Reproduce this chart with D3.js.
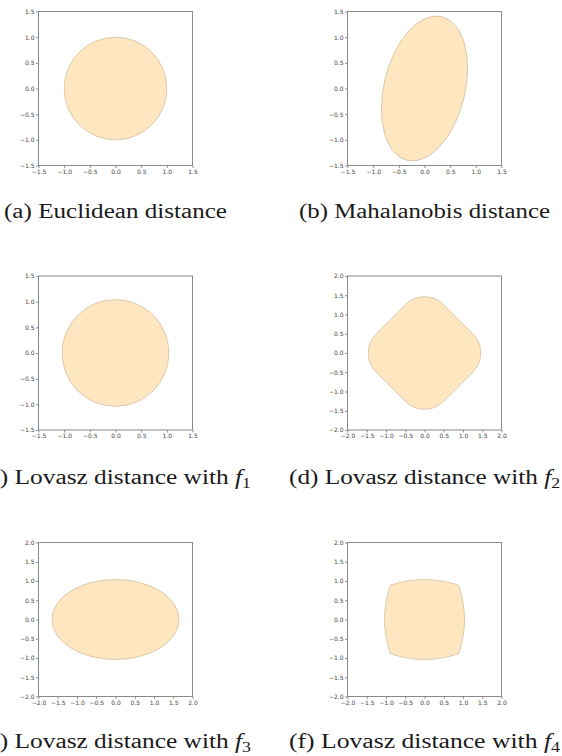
<!DOCTYPE html>
<html><head><meta charset="utf-8">
<script src="https://cdn.jsdelivr.net/npm/d3@7"></script>
<style>body{margin:0;background:#fff}svg{display:block}</style>
</head><body>
<svg id="chart" width="562" height="756"></svg>
<script>
// ---- data ----
const ticksSmall = [-1.5, -1.0, -0.5, 0.0, 0.5, 1.0, 1.5];
const ticksLarge = [-2.0, -1.5, -1.0, -0.5, 0.0, 0.5, 1.0, 1.5, 2.0];
const captionLetters = ["a", "b", "c", "d", "e", "f"];
const captionTexts = ["Euclidean distance", "Mahalanobis distance", "Lovasz distance with", "Lovasz distance with", "Lovasz distance with", "Lovasz distance with"];
const captionSubs = [null, null, "1", "2", "3", "4"];
const axisLimits = [1.5, 1.5, 1.5, 2.0, 2.0, 2.0];
// ellipses: [cx, cy, semi-axis along rotated x, semi-axis along rotated y, rotation in degrees]
const ellipseA = [0, 0, 1.00, 1.00, 0];
const ellipseB = [0, 0, 1.44, 0.79, 76.5];
const ellipseC = [0, 0, 1.04, 1.04, 0];
const ellipseE = [0, 0, 1.65, 1.04, 0];
// boundary of ball (d)
const boundaryD = [
  [1.46, 0], [1.44, 0.18], [1.37, 0.35], [1.26, 0.49], [0.875, 0.875], [0.49, 1.26], [0.35, 1.37], [0.18, 1.44],
  [0, 1.46], [-0.18, 1.44], [-0.35, 1.37], [-0.49, 1.26], [-0.875, 0.875], [-1.26, 0.49], [-1.37, 0.35], [-1.44, 0.18],
  [-1.46, 0], [-1.44, -0.18], [-1.37, -0.35], [-1.26, -0.49], [-0.875, -0.875], [-0.49, -1.26], [-0.35, -1.37], [-0.18, -1.44],
  [0, -1.46], [0.18, -1.44], [0.35, -1.37], [0.49, -1.26], [0.875, -0.875], [1.26, -0.49], [1.37, -0.35], [1.44, -0.18]
];
// boundary of ball (f): four curved sides
const sideFTop = [[-0.89, 0.89], [-0.6, 0.97], [-0.3, 1.02], [0, 1.04], [0.3, 1.02], [0.6, 0.97], [0.89, 0.89]];
const sideFRight = [[0.89, 0.89], [0.97, 0.6], [1.02, 0.3], [1.04, 0], [1.02, -0.3], [0.97, -0.6], [0.89, -0.89]];
const sideFBottom = [[0.89, -0.89], [0.6, -0.97], [0.3, -1.02], [0, -1.04], [-0.3, -1.02], [-0.6, -0.97], [-0.89, -0.89]];
const sideFLeft = [[-0.89, -0.89], [-0.97, -0.6], [-1.02, -0.3], [-1.04, 0], [-1.02, 0.3], [-0.97, 0.6], [-0.89, 0.89]];

// ---- layout ----
const svg = d3.select("#chart");
const origins = [[38.5, 11.5], [347.5, 11.5], [38.5, 276], [347.5, 276], [38.5, 542.5], [347.5, 542.5]];
const captionY = [218, 218, 484, 484, 748, 748];
const captionW = [223, 251, 271, 271, 271, 271];
const size = 154;
const fillColor = "#fee6c1";
const edgeColor = "#cbb998";
const fmt = d => (d < 0 ? "\u2212" : "") + Math.abs(d).toFixed(1);

origins.forEach((o, i) => {
  const L = axisLimits[i];
  const ticks = L > 1.5 ? ticksLarge : ticksSmall;
  const x = d3.scaleLinear().domain([-L, L]).range([o[0], o[0] + size]);
  const y = d3.scaleLinear().domain([-L, L]).range([o[1] + size, o[1]]);
  const g = svg.append("g");

  const drawEllipse = e => {
    const cx = x(e[0]), cy = y(e[1]);
    g.append("ellipse")
      .attr("cx", cx).attr("cy", cy)
      .attr("rx", x(e[0] + e[2]) - cx)
      .attr("ry", cy - y(e[1] + e[3]))
      .attr("transform", `rotate(${-e[4]},${cx},${cy})`)
      .attr("fill", fillColor).attr("stroke", edgeColor).attr("stroke-width", 0.7);
  };
  if (i === 0) drawEllipse(ellipseA);
  if (i === 1) drawEllipse(ellipseB);
  if (i === 2) drawEllipse(ellipseC);
  if (i === 4) drawEllipse(ellipseE);
  if (i === 3) {
    const line = d3.line().x(d => x(d[0])).y(d => y(d[1])).curve(d3.curveCatmullRomClosed.alpha(0.5));
    g.append("path").attr("d", line(boundaryD))
      .attr("fill", fillColor).attr("stroke", edgeColor).attr("stroke-width", 0.7);
  }
  if (i === 5) {
    const line = d3.line().x(d => x(d[0])).y(d => y(d[1])).curve(d3.curveCatmullRom.alpha(0.5));
    const parts = [sideFTop, sideFRight, sideFBottom, sideFLeft].map((s, k) => {
      const p = line(s);
      return k === 0 ? p : "L" + p.slice(1);
    });
    g.append("path").attr("d", parts.join("") + "Z")
      .attr("fill", fillColor).attr("stroke", edgeColor).attr("stroke-width", 0.7).attr("stroke-linejoin", "round");
  }

  // frame
  g.append("rect").attr("x", o[0]).attr("y", o[1]).attr("width", size).attr("height", size)
    .attr("fill", "none").attr("stroke", "#8a8a8a").attr("stroke-width", 1);

  const styleAxis = sel => {
    sel.select(".domain").remove();
    sel.selectAll(".tick line").attr("stroke", "#777").attr("stroke-width", 0.8);
    sel.selectAll(".tick text").attr("fill", "#444")
      .style("font-family", "'DejaVu Sans', sans-serif").style("font-size", "6px");
  };
  g.append("g").attr("transform", `translate(${o[0]},0)`)
    .call(d3.axisLeft(y).tickValues(ticks).tickFormat(fmt).tickSize(2.5).tickPadding(1.5))
    .call(styleAxis);
  g.append("g").attr("transform", `translate(0,${o[1] + size})`)
    .call(d3.axisBottom(x).tickValues(ticks).tickFormat(fmt).tickSize(2.5).tickPadding(1.5))
    .call(styleAxis);

  // caption
  const t = svg.append("text")
    .attr("x", o[0] + size / 2).attr("y", captionY[i])
    .attr("text-anchor", "middle")
    .attr("textLength", captionW[i]).attr("lengthAdjust", "spacingAndGlyphs")
    .style("font-family", "'Liberation Serif', 'DejaVu Serif', serif")
    .style("font-size", "20px").attr("fill", "#1a1a1a");
  t.append("tspan").text(`(${captionLetters[i]}) ${captionTexts[i]}`);
  if (captionSubs[i]) {
    t.append("tspan").text(" ");
    t.append("tspan").style("font-style", "italic").text("f");
    t.append("tspan").attr("dy", 4).style("font-size", "14px").text(captionSubs[i]);
  }
});
</script>
</body></html>
